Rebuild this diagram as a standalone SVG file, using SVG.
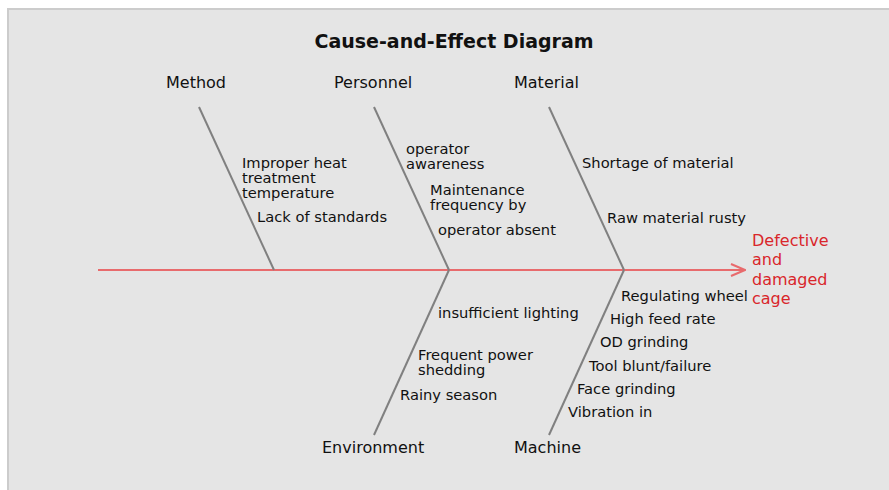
<svg xmlns="http://www.w3.org/2000/svg" width="889" height="490" viewBox="0 0 889 490">
  <defs>
    <style>
      .bg { fill: #e5e5e5; stroke: #cccccc; stroke-width: 2; }
      .spine { stroke: #808080; stroke-width: 2; fill: none; }
      .main { stroke: #e86b6d; stroke-width: 2; fill: none; }
      .title { font-family: "DejaVu Sans", sans-serif; font-size: 19px; font-weight: bold; fill: #111; }
      .cat { font-family: "DejaVu Sans", sans-serif; font-size: 16px; fill: #111; }
      .cause { font-family: "DejaVu Sans", sans-serif; font-size: 14.7px; fill: #111; }
      .effect { font-family: "DejaVu Sans", sans-serif; font-size: 16px; fill: #d9262b; }
    </style>
    <marker id="arrow" viewBox="0 0 16 14" refX="15" refY="7" markerWidth="16" markerHeight="14" markerUnits="userSpaceOnUse" orient="auto">
      <path d="M1,1 L15,7 L1,13" fill="none" stroke="#e86b6d" stroke-width="2"/>
    </marker>
  </defs>

  <rect class="bg" x="8" y="9" width="890" height="490"/>

  <text class="title" x="454" y="48" text-anchor="middle">Cause-and-Effect Diagram</text>

  <g id="connectors">
    <line class="main" x1="98" y1="270" x2="745" y2="270" marker-end="url(#arrow)"/>
    <line class="spine" x1="199" y1="107" x2="274" y2="270"/>
    <line class="spine" x1="374" y1="107" x2="449" y2="270"/>
    <line class="spine" x1="549" y1="107" x2="624" y2="270"/>
    <line class="spine" x1="449" y1="270" x2="374" y2="435"/>
    <line class="spine" x1="624" y1="270" x2="549" y2="435"/>
  </g>

  <g id="method">
    <text class="cat" x="166" y="88">Method</text>
    <text class="cause" x="242" y="168">Improper heat</text>
    <text class="cause" x="242" y="183">treatment</text>
    <text class="cause" x="242" y="198">temperature</text>
    <text class="cause" x="257" y="222">Lack of standards</text>
  </g>

  <g id="personnel">
    <text class="cat" x="334" y="88">Personnel</text>
    <text class="cause" x="406" y="154">operator</text>
    <text class="cause" x="406" y="169">awareness</text>
    <text class="cause" x="430" y="195">Maintenance</text>
    <text class="cause" x="430" y="210">frequency by</text>
    <text class="cause" x="438" y="235">operator absent</text>
  </g>

  <g id="material">
    <text class="cat" x="514" y="88">Material</text>
    <text class="cause" x="582" y="168">Shortage of material</text>
    <text class="cause" x="607" y="223">Raw material rusty</text>
  </g>

  <g id="environment">
    <text class="cat" x="322" y="453">Environment</text>
    <text class="cause" x="438" y="318">insufficient lighting</text>
    <text class="cause" x="418" y="360">Frequent power</text>
    <text class="cause" x="418" y="375">shedding</text>
    <text class="cause" x="400" y="400">Rainy season</text>
  </g>

  <g id="machine">
    <text class="cat" x="514" y="453">Machine</text>
    <text class="cause" x="621" y="301">Regulating wheel</text>
    <text class="cause" x="610" y="324">High feed rate</text>
    <text class="cause" x="600" y="347">OD grinding</text>
    <text class="cause" x="589" y="371">Tool blunt/failure</text>
    <text class="cause" x="577" y="394">Face grinding</text>
    <text class="cause" x="568" y="417">Vibration in</text>
  </g>

  <g id="effect">
    <text class="effect" x="752" y="246">Defective</text>
    <text class="effect" x="752" y="265">and</text>
    <text class="effect" x="752" y="285">damaged</text>
    <text class="effect" x="752" y="304">cage</text>
  </g>
</svg>
